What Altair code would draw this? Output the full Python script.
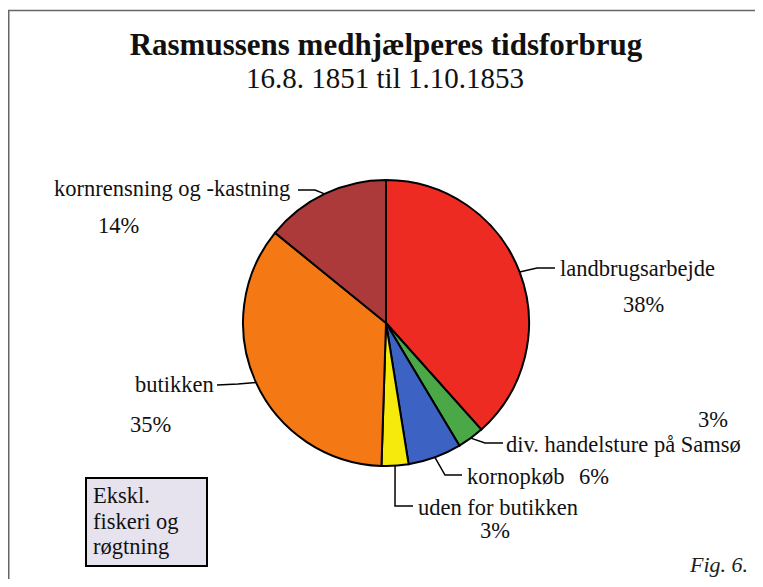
import math
import altair as alt
import pandas as pd

# ---- data ----
categories = ["landbrugsarbejde", "div. handelsture på Samsø", "kornopkøb",
              "uden for butikken", "butikken", "kornrensning og -kastning"]
shares = [38, 3, 6, 3, 35, 14]
pct_labels = ["38%", "3%", "6%", "3%", "35%", "14%"]
colors = ["#ee2b22", "#4aa846", "#3c62c4", "#f6ea0c", "#f47814", "#ad3a3a"]

title_text = "Rasmussens medhjælperes tidsforbrug"
subtitle_text = "16.8. 1851 til 1.10.1853"
note_lines = ["Ekskl.", "fiskeri og", "røgtning"]
fig_text = "Fig. 6."

# ---- layout (pixels in chart space) ----
W, H = 747, 571
OFF = 8
CX, CY, R = 386 - OFF, 323 - OFF, 143
FONT = "Times New Roman, Liberation Serif, serif"

# label positions: (left x, baseline y) in image coords
name_pos = {
    "landbrugsarbejde": (560, 276),
    "div. handelsture på Samsø": (506, 452),
    "kornopkøb": (467, 484),
    "uden for butikken": (418, 515),
    "butikken": (135, 392),
    "kornrensning og -kastning": (54, 196),
}
pct_pos = {
    "landbrugsarbejde": (623, 312),
    "div. handelsture på Samsø": (698, 427),
    "kornopkøb": (579, 484),
    "uden for butikken": (480, 538),
    "butikken": (130, 432),
    "kornrensning og -kastning": (98, 233),
}
# leader elbow and end points (image coords)
leader_pts = {
    "landbrugsarbejde": [(537, 268), (555, 268)],
    "div. handelsture på Samsø": [(485, 443), (503, 443)],
    "kornopkøb": [(445, 475), (462, 475)],
    "uden for butikken": [(395, 506), (413, 506)],
    "butikken": [(238, 384), (217, 385)],
    "kornrensning og -kastning": [(315, 190), (298, 190)],
}

total = sum(shares)
pie_df = pd.DataFrame({"category": categories, "share": shares,
                       "order": list(range(len(categories)))})

# leader lines start at slice mid-angle on the rim
rows = []
cum = 0
for cat, s in zip(categories, shares):
    a = (cum + s / 2) / total * 2 * math.pi
    cum += s
    sx = CX + R * math.sin(a)
    sy = CY - R * math.cos(a)
    pts = [(sx, sy)] + [(x - OFF, y - OFF) for x, y in leader_pts[cat]]
    for i, (x, y) in enumerate(pts):
        rows.append({"category": cat, "seq": i, "x": x, "y": y})
lead_df = pd.DataFrame(rows)

text_rows = []
for cat, p in zip(categories, pct_labels):
    nx, ny = name_pos[cat]
    text_rows.append({"t": cat, "x": nx - OFF, "y": ny - OFF})
    px, py = pct_pos[cat]
    text_rows.append({"t": p, "x": px - OFF, "y": py - OFF})
text_df = pd.DataFrame(text_rows)

note_df = pd.DataFrame({"t": note_lines,
                        "x": [93 - OFF] * 3,
                        "y": [y - OFF for y in (503, 529, 554)]})

X = lambda f: alt.X(f, scale=None, axis=None)
Y = lambda f: alt.Y(f, scale=None, axis=None)

one = pd.DataFrame({"a": [0]})

# page frame (top and left edges only)
frame_df = pd.DataFrame({"x": [0.75, 0.75, W + 2], "y": [H + 2, 2.5, 2.5], "s": [0, 1, 2]})
frame = alt.Chart(frame_df).mark_line(color="#666", strokeWidth=1.5).encode(
    x=X("x:Q"), y=Y("y:Q"), order="s:Q")

title = alt.Chart(pd.DataFrame({"t": [title_text]})).mark_text(
    font=FONT, fontSize=31, fontWeight="bold", color="#111", align="center",
    baseline="alphabetic").encode(text="t:N", x=alt.value(386 - OFF), y=alt.value(55 - OFF))
subtitle = alt.Chart(pd.DataFrame({"t": [subtitle_text]})).mark_text(
    font=FONT, fontSize=29, color="#111", align="center",
    baseline="alphabetic").encode(text="t:N", x=alt.value(385 - OFF), y=alt.value(88 - OFF))

pie = alt.Chart(pie_df).mark_arc(radius=R, stroke="black", strokeWidth=2).encode(
    theta=alt.Theta("share:Q", stack=True),
    order=alt.Order("order:Q"),
    color=alt.Color("category:N", scale=alt.Scale(domain=categories, range=colors), legend=None),
    x=alt.value(CX), y=alt.value(CY))

leaders = alt.Chart(lead_df).mark_line(color="black", strokeWidth=1.5).encode(
    x=X("x:Q"), y=Y("y:Q"), detail="category:N", order="seq:Q")

labels = alt.Chart(text_df).mark_text(
    font=FONT, fontSize=22.5, color="#111", align="left", baseline="alphabetic").encode(
    x=X("x:Q"), y=Y("y:Q"), text="t:N")

box = alt.Chart(one).mark_rect(fill="#e6e2ee", stroke="black", strokeWidth=2).encode(
    x=alt.value(86 - OFF), x2=alt.value(207 - OFF), y=alt.value(478 - OFF), y2=alt.value(566 - OFF))
note = alt.Chart(note_df).mark_text(
    font=FONT, fontSize=22.5, color="#111", align="left", baseline="alphabetic").encode(
    x=X("x:Q"), y=Y("y:Q"), text="t:N")

fig = alt.Chart(pd.DataFrame({"t": [fig_text]})).mark_text(
    font=FONT, fontSize=22, fontStyle="italic", color="#222", align="right",
    baseline="alphabetic").encode(text="t:N", x=alt.value(748 - OFF), y=alt.value(572 - OFF))

chart = alt.layer(frame, title, subtitle, pie, leaders, labels,
                  box, note, fig).properties(
    width=W, height=H, autosize=alt.AutoSizeParams(type="none"), padding=0
).configure_view(strokeOpacity=0, strokeWidth=0)

chart.save("out.html", embed_options={"renderer": "svg", "actions": False})
